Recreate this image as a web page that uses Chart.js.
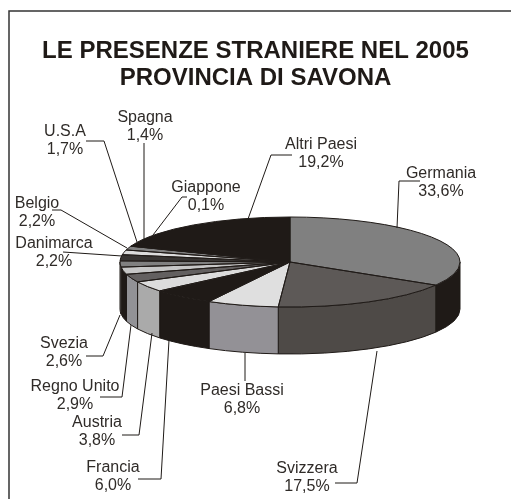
<!DOCTYPE html>
<html>
<head>
<meta charset="utf-8">
<style>
  html, body { margin: 0; padding: 0; background: #fff; }
  canvas { display: block; }
</style>
<script src="https://cdn.jsdelivr.net/npm/chart.js@4/dist/chart.umd.min.js"></script>
</head>
<body>
<canvas id="pie" width="511" height="499"></canvas>
<script>
// dati
var names = ["Germania", "Svizzera", "Paesi Bassi", "Francia", "Austria", "Regno Unito", "Svezia",
  "Danimarca", "Belgio", "U.S.A", "Spagna", "Giappone", "Altri Paesi"];
var values = [33.6, 17.5, 6.8, 6.0, 3.8, 2.9, 2.6, 2.2, 2.2, 1.7, 1.4, 0.1, 19.2];
var topColors = ["#808080", "#5d5957", "#dfdfdf", "#1f1a17", "#dcdcdc", "#636060", "#c6c6c6",
  "#808080", "#383533", "#dcdcdc", "#808080", "#ffffff", "#1f1a17"];
var sideColors = ["#1f1a17", "#4e4a47", "#939196", "#1f1a17", "#aaaaaa", "#929296", "#1f1a17",
  "#808080", "#383533", "#dcdcdc", "#808080", "#ffffff", "#1f1a17"];

// layout of the labels: text centre, first baseline, leader line
var labelX = [441, 307, 242, 113, 97, 75, 64, 54, 37, 65, 145, 206, 321];
var labelY = [178, 473, 395, 472, 427, 391, 348, 248, 208, 136, 122, 192, 149];
var leaders = [
  [[420, 181], [399, 181], [397, 228]],
  [[335, 483], [357, 483], [377, 351]],
  [[245, 381], [245, 353]],
  [[138, 479], [161, 479], [169, 340]],
  [[122, 435], [139, 435], [152, 333]],
  [[100, 397], [122, 397], [131, 325]],
  [[86, 356], [103, 356], [120, 315]],
  [[63, 252], [122, 256]],
  [[52, 210], [61, 210], [127, 248]],
  [[86, 141], [104, 141], [137, 242]],
  [[144, 143], [144, 240]],
  [[187, 197], [182, 197], [153, 235]],
  [[292, 155], [271, 155], [248, 219]]
];

var pieX = 290, pieY = 262, squash = 45 / 170, depth = 47;
var ink = "#1f1a17", textColor = "#2f2b28";

var pie3d = {
  id: "pie3d",
  beforeDatasetsDraw: function (chart) {
    // frame, open on the right and at the bottom as in the scan
    var ctx = chart.ctx;
    ctx.save();
    ctx.strokeStyle = "#333";
    ctx.lineWidth = 1.5;
    ctx.beginPath();
    ctx.moveTo(511, 11);
    ctx.lineTo(9, 11);
    ctx.lineTo(9, 499);
    ctx.stroke();

    // side wall of the front half
    var arcs = chart.getDatasetMeta(0).data;
    arcs.forEach(function (arc, i) {
      var a = Math.max(arc.startAngle, 0);
      var b = Math.min(arc.endAngle, Math.PI);
      if (b <= a) return;
      var r = arc.outerRadius, ry = r * squash;
      ctx.beginPath();
      ctx.ellipse(pieX, pieY, r, ry, 0, a, b);
      ctx.ellipse(pieX, pieY + depth, r, ry, 0, b, a, true);
      ctx.closePath();
      ctx.fillStyle = sideColors[i];
      ctx.fill();
      ctx.strokeStyle = ink;
      ctx.lineWidth = 1;
      ctx.stroke();
    });
    ctx.restore();
  },
  beforeDatasetDraw: function (chart) {
    var arc = chart.getDatasetMeta(0).data[0];
    chart.ctx.save();
    chart.ctx.translate(pieX, pieY);
    chart.ctx.scale(1, squash);
    chart.ctx.translate(-arc.x, -arc.y);
  },
  afterDatasetDraw: function (chart) {
    var ctx = chart.ctx;
    ctx.restore();
    ctx.save();
    // outlines apart, so the squash does not thin them
    chart.getDatasetMeta(0).data.forEach(function (arc) {
      var r = arc.outerRadius;
      ctx.beginPath();
      ctx.moveTo(pieX, pieY);
      ctx.ellipse(pieX, pieY, r, r * squash, 0, arc.startAngle, arc.endAngle);
      ctx.closePath();
      ctx.strokeStyle = ink;
      ctx.lineWidth = 1;
      ctx.stroke();
    });

    // labels and leader lines
    ctx.font = "16px 'Liberation Sans', Arial, sans-serif";
    ctx.textAlign = "center";
    ctx.textBaseline = "alphabetic";
    ctx.fillStyle = textColor;
    names.forEach(function (name, i) {
      ctx.fillText(name, labelX[i], labelY[i]);
      ctx.fillText(values[i].toFixed(1).replace(".", ",") + "%", labelX[i], labelY[i] + 18);
      ctx.beginPath();
      leaders[i].forEach(function (p, k) {
        if (k == 0) ctx.moveTo(p[0], p[1]);
        else ctx.lineTo(p[0], p[1]);
      });
      ctx.strokeStyle = ink;
      ctx.lineWidth = 1;
      ctx.stroke();
    });
    ctx.restore();
  }
};

new Chart(document.getElementById("pie"), {
  type: "pie",
  plugins: [pie3d],
  data: {
    labels: names,
    datasets: [{ data: values, backgroundColor: topColors, borderWidth: 0, clip: false }]
  },
  options: {
    responsive: false,
    animation: false,
    layout: { padding: { top: 0, bottom: 67, left: 0, right: 0 } },
    plugins: {
      legend: { display: false },
      tooltip: { enabled: false },
      title: {
        display: true,
        text: ["LE PRESENZE STRANIERE NEL 2005", "PROVINCIA DI SAVONA"],
        color: ink,
        font: { family: "'Liberation Sans', Arial, sans-serif", size: 24, weight: "bold", lineHeight: 27 / 24 },
        padding: { top: 38, bottom: 0 }
      }
    }
  }
});
</script>
</body>
</html>
